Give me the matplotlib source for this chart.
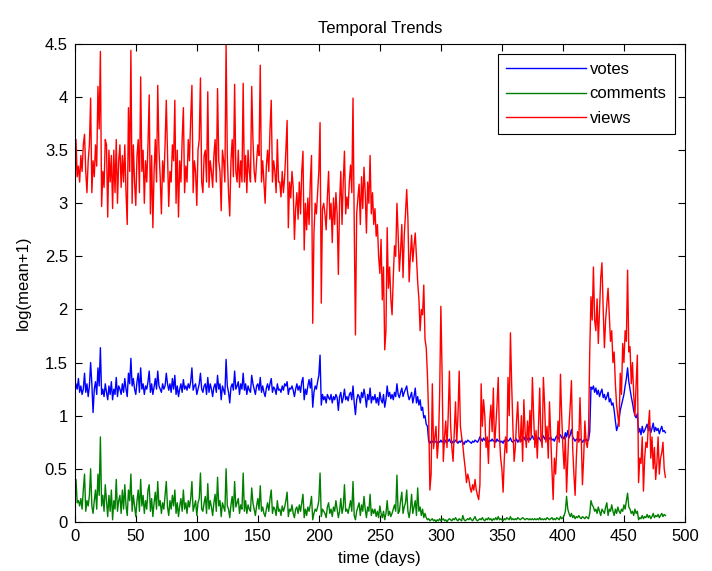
import numpy as np
import matplotlib
matplotlib.use("Agg")
import matplotlib.pyplot as plt
from matplotlib.ticker import FormatStrFormatter, MultipleLocator

# daily log(mean+1) values, one week per row
views = [
    2.90, 3.60, 3.25, 3.35, 3.20, 3.45, 3.30,
    3.55, 3.65, 3.30, 3.10, 3.40, 3.55, 3.99,
    3.10, 3.40, 3.25, 3.55, 3.35, 4.10, 3.70,
    4.43, 2.97, 3.30, 3.15, 3.60, 3.55, 2.87,
    3.50, 3.20, 3.45, 2.95, 3.50, 3.10, 3.60,
    3.00, 3.40, 3.55, 3.15, 3.45, 3.20, 3.55,
    3.10, 2.80, 3.90, 3.30, 4.44, 3.00, 3.55,
    3.20, 2.98, 3.45, 3.60, 3.10, 4.19, 3.30,
    3.50, 3.00, 3.40, 3.20, 3.55, 4.02, 2.90,
    3.45, 2.77, 3.30, 3.60, 3.20, 4.11, 3.50,
    3.25, 2.90, 3.40, 3.20, 3.55, 3.97, 3.45,
    2.97, 3.30, 3.20, 3.55, 3.40, 3.97, 3.00,
    3.50, 2.87, 3.40, 3.20, 3.60, 3.90, 3.10,
    3.35, 3.20, 3.60, 3.40, 3.80, 4.11, 3.10,
    3.40, 3.30, 2.98, 3.50, 3.60, 4.18, 3.20,
    3.10, 3.45, 3.50, 3.20, 4.05, 3.15, 3.40,
    3.30, 3.15, 3.45, 3.60, 3.20, 4.08, 3.40,
    3.30, 2.93, 3.50, 3.40, 3.20, 4.50, 3.45,
    3.10, 2.88, 3.40, 3.60, 3.25, 4.12, 3.30,
    3.20, 3.50, 3.15, 3.40, 3.20, 4.13, 3.20,
    3.45, 3.10, 3.50, 3.30, 3.20, 4.10, 3.60,
    3.30, 3.20, 3.40, 3.55, 3.45, 4.30, 3.20,
    3.40, 3.20, 3.00, 3.35, 3.50, 3.30, 3.70,
    3.97, 3.20, 3.40, 3.30, 3.10, 3.60, 3.20,
    3.20, 3.06, 3.30, 3.10, 3.25, 3.50, 3.78,
    2.77, 3.20, 3.05, 3.30, 3.15, 2.66, 2.95,
    3.10, 2.85, 3.20, 2.90, 3.30, 3.49, 2.56,
    3.00, 2.75, 3.05, 2.80, 3.20, 3.45, 1.87,
    2.72, 3.00, 2.90, 3.10, 3.30, 3.76, 2.06,
    2.95, 3.00, 2.90, 2.75, 3.06, 3.30, 2.85,
    3.00, 2.63, 3.05, 2.80, 3.10, 2.90, 2.33,
    3.00, 3.30, 2.80, 3.20, 3.49, 2.90, 3.06,
    2.95, 3.20, 3.36, 3.10, 3.99, 2.80, 1.76,
    2.90, 3.05, 3.18, 2.80, 3.25, 2.95, 3.34,
    3.10, 2.72, 3.20, 3.00, 3.45, 2.90, 3.10,
    2.80, 2.95, 2.69, 2.80, 2.50, 2.34, 2.66,
    2.09, 2.40, 1.62, 1.80, 2.77, 2.20, 2.40,
    2.10, 1.95, 2.30, 2.60, 2.50, 3.00, 2.70,
    2.36, 2.56, 2.80, 2.30, 2.70, 2.90, 3.13,
    2.85, 2.26, 2.50, 2.70, 2.45, 2.60, 2.72,
    2.50, 2.26, 2.10, 1.80, 2.00, 1.95, 2.23,
    1.72, 1.64, 1.38, 1.00, 0.30, 0.45, 1.30,
    0.69, 0.80, 0.90, 0.60, 0.75, 1.20, 2.03,
    1.40, 0.57, 0.80, 0.95, 0.70, 1.00, 1.42,
    0.90, 0.70, 0.57, 0.85, 1.13, 0.75, 1.00,
    1.42, 0.90, 0.80, 0.72, 0.60, 0.50, 0.37,
    0.45, 0.40, 0.32, 0.28, 0.35, 0.30, 0.40,
    0.30, 0.25, 0.21, 0.35, 1.30, 0.90, 1.15,
    1.00, 0.70, 0.80, 0.55, 0.95, 1.10, 0.85,
    1.26, 0.70, 0.90, 1.10, 1.36, 0.80, 0.60,
    0.50, 0.28, 0.60, 0.80, 0.65, 1.36, 1.00,
    1.78, 1.30, 0.90, 0.57, 0.70, 0.95, 1.13,
    0.80, 0.75, 1.00, 0.57, 1.15, 0.85, 0.70,
    0.95, 0.75, 1.05, 0.80, 1.36, 1.00, 0.70,
    0.86, 0.60, 0.90, 1.26, 0.80, 0.70, 1.36,
    1.10, 0.75, 0.90, 0.60, 1.13, 0.80, 0.50,
    0.21, 0.60, 0.45, 0.70, 0.95, 0.75, 1.39,
    1.00, 0.70, 0.50, 0.80, 0.28, 0.60, 0.90,
    1.10, 1.33, 0.70, 0.45, 0.25, 0.60, 0.85,
    0.75, 1.17, 0.80, 0.35, 0.60, 0.95, 0.75,
    0.70, 0.85, 1.60, 2.12, 1.90, 2.40, 1.90,
    1.80, 2.10, 1.68, 2.00, 2.30, 2.44, 2.00,
    1.64, 1.90, 2.05, 2.20, 1.96, 1.70, 1.80,
    1.50, 1.60, 1.30, 1.10, 1.00, 0.90, 1.40,
    1.20, 1.68, 1.50, 1.80, 1.70, 2.37, 1.60,
    1.65, 1.30, 1.50, 1.20, 1.00, 1.30, 1.57,
    0.37, 0.60, 0.55, 0.80, 0.29, 0.60, 0.75,
    0.70, 0.90, 1.05, 0.60, 0.80, 0.50, 0.70,
    0.40, 0.55, 0.80, 0.45, 0.60, 0.65, 0.75,
    0.50, 0.42,
]

votes = [
    1.20, 1.30, 1.25, 1.35, 1.22, 1.28, 1.20,
    1.25, 1.40, 1.22, 1.30, 1.18, 1.28, 1.50,
    1.30, 1.03, 1.25, 1.32, 1.20, 1.45, 1.28,
    1.64, 1.20, 1.25, 1.18, 1.30, 1.22, 1.15,
    1.28, 1.20, 1.32, 1.15, 1.25, 1.20, 1.36,
    1.18, 1.28, 1.25, 1.20, 1.30, 1.22, 1.35,
    1.25, 1.18, 1.40, 1.30, 1.54, 1.28, 1.35,
    1.25, 1.20, 1.32, 1.40, 1.22, 1.45, 1.25,
    1.30, 1.20, 1.28, 1.25, 1.32, 1.42, 1.22,
    1.30, 1.20, 1.27, 1.35, 1.25, 1.42, 1.28,
    1.25, 1.22, 1.30, 1.25, 1.28, 1.40, 1.30,
    1.24, 1.30, 1.22, 1.35, 1.25, 1.38, 1.20,
    1.28, 1.18, 1.25, 1.30, 1.22, 1.34, 1.25,
    1.28, 1.24, 1.30, 1.26, 1.32, 1.45, 1.24,
    1.28, 1.30, 1.20, 1.25, 1.30, 1.40, 1.25,
    1.22, 1.28, 1.30, 1.20, 1.36, 1.22, 1.30,
    1.25, 1.18, 1.27, 1.30, 1.22, 1.38, 1.25,
    1.30, 1.15, 1.28, 1.24, 1.20, 1.53, 1.28,
    1.22, 1.12, 1.27, 1.30, 1.24, 1.42, 1.25,
    1.28, 1.32, 1.20, 1.30, 1.25, 1.40, 1.24,
    1.30, 1.20, 1.28, 1.24, 1.22, 1.38, 1.30,
    1.25, 1.20, 1.28, 1.30, 1.24, 1.36, 1.22,
    1.28, 1.22, 1.18, 1.26, 1.30, 1.24, 1.30,
    1.35, 1.22, 1.27, 1.25, 1.20, 1.30, 1.24,
    1.25, 1.22, 1.28, 1.24, 1.30, 1.28, 1.32,
    1.20, 1.26, 1.25, 1.28, 1.24, 1.18, 1.25,
    1.30, 1.24, 1.28, 1.22, 1.32, 1.36, 1.15,
    1.25, 1.20, 1.28, 1.34, 1.26, 1.35, 1.08,
    1.22, 1.28, 1.25, 1.32, 1.38, 1.57, 1.10,
    1.20, 1.15, 1.18, 1.12, 1.20, 1.17, 1.15,
    1.20, 1.12, 1.18, 1.15, 1.20, 1.17, 1.05,
    1.18, 1.22, 1.12, 1.17, 1.25, 1.15, 1.18,
    1.14, 1.20, 1.22, 1.15, 1.28, 1.12, 1.01,
    1.15, 1.20, 1.18, 1.12, 1.22, 1.17, 1.25,
    1.18, 1.08, 1.20, 1.15, 1.26, 1.12, 1.18,
    1.15, 1.20, 1.12, 1.17, 1.10, 1.22, 1.15,
    1.12, 1.20, 1.08, 1.15, 1.28, 1.18, 1.22,
    1.16, 1.20, 1.15, 1.22, 1.18, 1.30, 1.20,
    1.17, 1.22, 1.26, 1.18, 1.22, 1.25, 1.28,
    1.20, 1.15, 1.18, 1.22, 1.12, 1.18, 1.26,
    1.12, 1.18, 1.10, 1.15, 1.05, 1.08, 0.98,
    1.00, 0.92, 0.90, 0.76, 0.74, 0.76, 0.75,
    0.77, 0.75, 0.76, 0.74, 0.76, 0.75, 0.77,
    0.75, 0.76, 0.74, 0.77, 0.75, 0.76, 0.78,
    0.75, 0.74, 0.76, 0.75, 0.77, 0.76, 0.74,
    0.76, 0.75, 0.77, 0.75, 0.73, 0.76, 0.75,
    0.77, 0.76, 0.75, 0.74, 0.76, 0.75, 0.77,
    0.76, 0.75, 0.77, 0.80, 0.78, 0.76, 0.79,
    0.77, 0.76, 0.78, 0.75, 0.77, 0.76, 0.78,
    0.76, 0.77, 0.75, 0.78, 0.76, 0.77, 0.75,
    0.76, 0.74, 0.77, 0.75, 0.78, 0.76, 0.77,
    0.79, 0.76, 0.75, 0.77, 0.76, 0.78, 0.75,
    0.77, 0.79, 0.76, 0.78, 0.80, 0.77, 0.76,
    0.78, 0.80, 0.77, 0.79, 0.81, 0.78, 0.77,
    0.79, 0.77, 0.80, 0.78, 0.76, 0.79, 0.81,
    0.78, 0.80, 0.77, 0.79, 0.78, 0.80, 0.77,
    0.78, 0.76, 0.79, 0.81, 0.78, 0.80, 0.82,
    0.79, 0.80, 0.78, 0.84, 0.80, 0.86, 0.79,
    0.82, 0.87, 0.80, 0.78, 0.76, 0.78, 0.77,
    0.76, 0.78, 0.77, 0.75, 0.77, 0.76, 0.78,
    0.76, 0.77, 0.85, 1.27, 1.25, 1.28, 1.22,
    1.26, 1.20, 1.24, 1.18, 1.22, 1.25, 1.17,
    1.20, 1.15, 1.18, 1.22, 1.13, 1.16, 1.10,
    1.12, 1.05, 0.95, 0.86, 0.90, 0.96, 1.05,
    1.10, 1.15, 1.20, 1.28, 1.35, 1.45, 1.32,
    1.25, 1.18, 1.12, 1.05, 1.00, 0.98, 1.02,
    0.84, 0.88, 0.82, 0.90, 0.84, 0.86, 0.89,
    0.92, 0.86, 0.90, 0.84, 0.88, 0.93, 0.85,
    0.89, 0.86, 0.88, 0.83, 0.87, 0.90, 0.85,
    0.86, 0.84,
]

comments = [
    0.25, 0.40, 0.18, 0.20, 0.15, 0.22, 0.12,
    0.30, 0.45, 0.10, 0.20, 0.15, 0.25, 0.50,
    0.15, 0.08, 0.20, 0.30, 0.12, 0.45, 0.25,
    0.80, 0.15, 0.25, 0.10, 0.35, 0.20, 0.05,
    0.25, 0.10, 0.30, 0.02, 0.20, 0.12, 0.40,
    0.10, 0.20, 0.25, 0.08, 0.30, 0.12, 0.35,
    0.15, 0.06, 0.30, 0.20, 0.45, 0.10, 0.25,
    0.15, 0.05, 0.20, 0.30, 0.10, 0.40, 0.15,
    0.25, 0.08, 0.20, 0.12, 0.30, 0.35, 0.10,
    0.22, 0.05, 0.18, 0.28, 0.12, 0.38, 0.15,
    0.20, 0.08, 0.18, 0.12, 0.25, 0.38, 0.14,
    0.06, 0.20, 0.12, 0.25, 0.15, 0.30, 0.08,
    0.18, 0.05, 0.15, 0.22, 0.10, 0.30, 0.12,
    0.18, 0.08, 0.20, 0.14, 0.22, 0.38, 0.10,
    0.15, 0.20, 0.06, 0.18, 0.22, 0.46, 0.12,
    0.10, 0.18, 0.24, 0.08, 0.36, 0.12, 0.20,
    0.14, 0.06, 0.18, 0.26, 0.10, 0.42, 0.15,
    0.20, 0.05, 0.18, 0.14, 0.10, 0.50, 0.15,
    0.12, 0.04, 0.16, 0.24, 0.10, 0.38, 0.14,
    0.18, 0.22, 0.08, 0.16, 0.12, 0.46, 0.10,
    0.20, 0.08, 0.16, 0.12, 0.10, 0.32, 0.18,
    0.12, 0.06, 0.15, 0.22, 0.12, 0.34, 0.10,
    0.14, 0.08, 0.05, 0.12, 0.18, 0.10, 0.22,
    0.30, 0.08, 0.14, 0.12, 0.06, 0.20, 0.10,
    0.12, 0.06, 0.15, 0.10, 0.14, 0.20, 0.28,
    0.05, 0.12, 0.10, 0.16, 0.08, 0.04, 0.12,
    0.14, 0.08, 0.16, 0.10, 0.18, 0.26, 0.04,
    0.12, 0.06, 0.14, 0.10, 0.16, 0.24, 0.02,
    0.08, 0.12, 0.10, 0.14, 0.20, 0.46, 0.05,
    0.12, 0.10, 0.08, 0.04, 0.14, 0.18, 0.08,
    0.12, 0.05, 0.14, 0.10, 0.20, 0.12, 0.04,
    0.10, 0.22, 0.08, 0.14, 0.35, 0.10, 0.12,
    0.08, 0.14, 0.20, 0.10, 0.38, 0.06, 0.02,
    0.10, 0.14, 0.18, 0.06, 0.16, 0.10, 0.24,
    0.12, 0.04, 0.14, 0.10, 0.26, 0.06, 0.12,
    0.08, 0.12, 0.05, 0.10, 0.04, 0.15, 0.08,
    0.04, 0.10, 0.02, 0.08, 0.20, 0.06, 0.10,
    0.05, 0.08, 0.12, 0.16, 0.10, 0.44, 0.08,
    0.10, 0.20, 0.28, 0.08, 0.14, 0.18, 0.30,
    0.10, 0.04, 0.12, 0.26, 0.08, 0.14, 0.20,
    0.06, 0.32, 0.10, 0.14, 0.06, 0.12, 0.04,
    0.08, 0.04, 0.02, 0.03, 0.01, 0.02, 0.03,
    0.01, 0.02, 0.00, 0.02, 0.01, 0.03, 0.01,
    0.02, 0.03, 0.01, 0.02, 0.00, 0.02, 0.03,
    0.02, 0.01, 0.03, 0.02, 0.04, 0.02, 0.01,
    0.03, 0.02, 0.01, 0.06, 0.02, 0.01, 0.02,
    0.03, 0.02, 0.04, 0.02, 0.01, 0.03, 0.05,
    0.02, 0.01, 0.02, 0.03, 0.02, 0.04, 0.02,
    0.01, 0.03, 0.02, 0.04, 0.02, 0.03, 0.01,
    0.03, 0.02, 0.04, 0.02, 0.05, 0.02, 0.03,
    0.02, 0.01, 0.03, 0.02, 0.04, 0.03, 0.02,
    0.05, 0.02, 0.03, 0.02, 0.03, 0.02, 0.04,
    0.03, 0.02, 0.03, 0.04, 0.03, 0.02, 0.03,
    0.03, 0.02, 0.03, 0.02, 0.03, 0.02, 0.03,
    0.02, 0.03, 0.02, 0.04, 0.02, 0.03, 0.02,
    0.03, 0.02, 0.04, 0.03, 0.02, 0.03, 0.04,
    0.02, 0.03, 0.02, 0.04, 0.03, 0.02, 0.05,
    0.03, 0.04, 0.06, 0.10, 0.24, 0.12, 0.08,
    0.05, 0.08, 0.04, 0.06, 0.03, 0.05, 0.04,
    0.06, 0.04, 0.03, 0.05, 0.04, 0.03, 0.05,
    0.04, 0.03, 0.08, 0.20, 0.16, 0.14, 0.10,
    0.12, 0.08, 0.14, 0.10, 0.06, 0.12, 0.10,
    0.08, 0.14, 0.18, 0.06, 0.12, 0.10, 0.16,
    0.10, 0.06, 0.12, 0.08, 0.14, 0.10, 0.08,
    0.12, 0.10, 0.16, 0.12, 0.20, 0.27, 0.14,
    0.12, 0.08, 0.10, 0.06, 0.12, 0.08, 0.10,
    0.02, 0.04, 0.03, 0.06, 0.03, 0.05, 0.04,
    0.07, 0.04, 0.06, 0.03, 0.05, 0.08, 0.04,
    0.06, 0.05, 0.07, 0.04, 0.06, 0.08, 0.05,
    0.07, 0.06,
]

plt.rcParams['font.family'] = ['Liberation Sans Narrow', 'Liberation Sans', 'DejaVu Sans']

fig = plt.figure(figsize=(7.12, 5.71), dpi=100)
ax = fig.add_axes([0.105, 0.086, 0.857, 0.837])

ax.plot(np.arange(len(votes)), votes, color=(0, 0, 1), lw=1, label='votes')
ax.plot(np.arange(len(comments)), comments, color=(0, 0.5, 0), lw=1, label='comments')
ax.plot(np.arange(len(views)), views, color=(1, 0, 0), lw=1, label='views')

ax.set_xlim(0, 500)
ax.set_ylim(0, 4.5)
ax.xaxis.set_major_locator(MultipleLocator(50))
ax.yaxis.set_major_locator(MultipleLocator(0.5))
ax.yaxis.set_major_formatter(FormatStrFormatter('%g'))
ax.tick_params(direction='in', top=True, right=True, length=5, labelsize=12, pad=5)
for s in ax.spines.values():
    s.set_linewidth(0.8)

ax.set_title('Temporal Trends', fontsize=12, pad=8)
ax.set_xlabel('time (days)', fontsize=12, labelpad=5)
ax.set_ylabel('log(mean+1)', fontsize=12, labelpad=10)

leg = ax.legend(loc='upper right', fontsize=12, fancybox=False, framealpha=1,
                edgecolor='black', handlelength=4.8, handletextpad=0.2,
                labelspacing=0.55, borderpad=0.5, borderaxespad=0.6)
leg.get_frame().set_linewidth(0.8)

fig.savefig('out.png', dpi=100, facecolor='white')
